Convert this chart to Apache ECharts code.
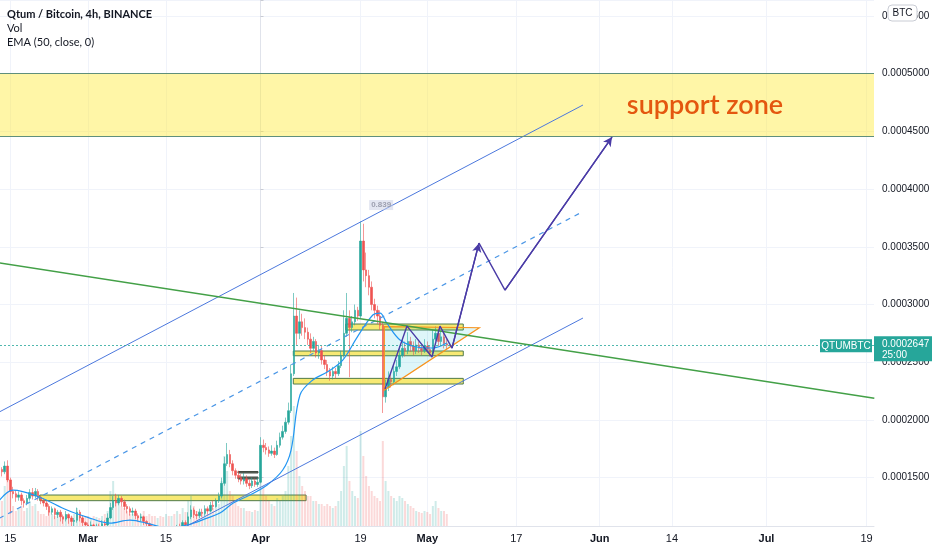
<!DOCTYPE html>
<html><head><meta charset="utf-8">
<script src="https://cdn.jsdelivr.net/npm/echarts@6/dist/echarts.min.js"></script>
<style>html,body{margin:0;padding:0;background:#fff;overflow:hidden}#c{width:932px;height:550px}</style>
</head><body><div id="c"></div>
<script>
// Time axis: days relative to 2021-04-01. Prices in units of 1e-7 BTC.
const startDay = -47;      // 2021-02-13 00:00
const stepDays = 0.5;      // 12h candles
const xRange = [-46.85, 110.34];
const tickDays = [-45, -31, -17, 0, 18, 30, 46, 61, 74, 91, 109];
const tickLabels = ['15', 'Mar', '15', 'Apr', '19', 'May', '17', 'Jun', '14', 'Jul', '19'];
const monthLabels = ['Mar', 'Apr', 'May', 'Jun', 'Jul'];

// [open, close, low, high]
const candles = [
[1540,1570,1520,1600],[1570,1550,1510,1590],
[1550,1600,1530,1640],[1600,1480,1460,1650],
[1480,1380,1190,1500],[1380,1360,1320,1420],
[1360,1330,1290,1390],[1330,1350,1300,1380],
[1350,1300,1260,1370],[1300,1280,1240,1320],
[1280,1320,1260,1350],[1320,1370,1300,1400],
[1370,1340,1310,1410],[1340,1380,1320,1410],
[1380,1330,1300,1400],[1330,1300,1270,1340],
[1300,1280,1250,1320],[1280,1250,1220,1300],
[1250,1200,1170,1270],[1200,1230,1180,1250],
[1230,1180,1140,1240],[1180,1200,1150,1220],
[1200,1160,1120,1220],[1160,1140,1100,1180],
[1140,1180,1120,1210],[1180,1150,1100,1190],
[1150,1120,1080,1170],[1120,1130,1070,1150],
[1130,1200,1110,1240],[1200,1150,1120,1220],
[1150,1110,1080,1170],[1110,1090,1050,1120],
[1090,1070,1040,1110],[1070,1090,1050,1120],
[1090,1060,1030,1100],[1060,1080,1040,1100],
[1080,1060,1030,1100],[1060,1100,1050,1130],
[1100,1090,1050,1130],[1090,1150,1080,1190],
[1150,1240,1140,1280],[1240,1300,1220,1340],
[1300,1280,1250,1360],[1280,1320,1260,1350],
[1320,1290,1250,1340],[1290,1250,1220,1310],
[1250,1230,1190,1270],[1230,1200,1170,1250],
[1200,1210,1170,1240],[1210,1170,1140,1230],
[1170,1150,1120,1190],[1150,1160,1120,1190],
[1160,1120,1090,1170],[1120,1100,1070,1130],
[1100,1080,1040,1110],[1080,1060,1020,1090],
[1060,1040,1000,1080],[1040,1050,1010,1070],
[1050,1030,990,1070],[1030,1010,980,1050],
[1010,1030,990,1050],[1030,1000,970,1040],
[1000,1040,990,1060],[1040,1030,1000,1070],
[1030,1070,1020,1090],[1070,1060,1030,1100],
[1060,1110,1050,1130],[1110,1090,1060,1130],
[1090,1160,1080,1200],[1160,1220,1140,1260],
[1220,1180,1150,1240],[1180,1170,1140,1210],
[1170,1200,1150,1230],[1200,1190,1160,1230],
[1190,1230,1170,1260],[1230,1210,1180,1250],
[1210,1260,1200,1290],[1260,1250,1220,1300],
[1250,1300,1240,1320],[1300,1340,1280,1370],
[1340,1450,1320,1500],[1450,1620,1430,1680],
[1620,1700,1600,1800],[1700,1620,1590,1740],
[1620,1560,1520,1650],[1560,1520,1490,1580],
[1520,1500,1460,1560],[1500,1470,1440,1530],
[1470,1490,1440,1540],[1490,1450,1420,1520],
[1450,1430,1400,1480],[1430,1470,1410,1500],
[1470,1440,1420,1490],[1440,1460,1420,1500],
[1460,1780,1450,1850],[1780,1760,1720,1830],
[1760,1740,1700,1800],[1740,1710,1680,1770],
[1710,1730,1690,1780],[1730,1700,1670,1760],
[1700,1780,1690,1820],[1780,1850,1760,1890],
[1850,1900,1830,1950],[1900,1980,1880,2020],
[1980,2080,1960,2150],[2080,2400,2060,2480],
[2400,2900,2380,3100],[2900,2750,2650,3060],
[2750,2850,2700,2950],[2850,2800,2730,2920],
[2800,2760,2700,2880],[2760,2700,2650,2800],
[2700,2620,2580,2750],[2620,2680,2600,2720],
[2680,2580,2540,2700],[2580,2600,2530,2650],
[2600,2520,2480,2640],[2520,2480,2440,2560],
[2480,2420,2380,2520],[2420,2380,2340,2450],
[2380,2420,2350,2460],[2420,2400,2360,2450],
[2400,2470,2380,2510],[2470,2560,2450,2600],
[2560,2750,2540,2950],[2750,2880,2720,3100],
[2880,2800,2370,2950],[2800,2850,2760,2900],
[2850,2950,2820,3000],[2950,2900,2860,2980],
[2900,3550,2880,3720],[3550,3300,3200,3700],
[3300,3250,3150,3450],[3250,3150,3080,3300],
[3150,3000,2950,3200],[3000,2950,2880,3050],
[2950,2900,2830,2990],[2900,2820,2780,2950],
[2820,2200,2060,2850],[2200,2280,2150,2350],
[2280,2350,2250,2420],[2350,2330,2280,2400],
[2330,2420,2300,2480],[2420,2460,2380,2520],
[2460,2560,2440,2640],[2560,2620,2540,2700],
[2620,2600,2550,2680],[2600,2680,2570,2760],
[2680,2640,2590,2720],[2640,2600,2560,2680],
[2600,2650,2570,2700],[2650,2620,2580,2680],
[2620,2600,2560,2660],[2600,2640,2580,2700],
[2640,2610,2580,2680],[2610,2580,2550,2640],
[2580,2700,2560,2780],[2700,2750,2680,2810],
[2750,2680,2640,2790],[2680,2720,2650,2770],
[2720,2660,2620,2760],[2660,2647,2610,2700]
];

const volumes = [
30,25,40,50,
35,20,15,18,20,15,18,25,20,22,15,12,
12,10,15,12,10,12,14,10,12,10,10,12,18,12,10,10,
10,8,10,9,8,10,12,15,
35,45,30,25,20,18,15,12,
12,10,10,12,15,10,12,10,
10,8,10,9,12,10,10,12,15,12,18,14,
25,30,20,15,15,12,14,12,15,18,20,22,
45,70,55,35,30,25,20,18,18,15,15,14,16,15,
70,40,30,25,22,20,28,25,30,35,60,90,
120,75,50,40,35,30,30,25,25,22,22,20,
22,20,18,20,25,35,60,80,45,35,30,28,
95,70,50,40,35,30,28,25,
85,45,35,30,28,25,30,28,25,22,20,18,
15,14,13,15,14,12,20,25,18,15,15,12
];

const emaDays = [-46.9,-44.5,-39.7,-34.8,-31.2,-27.1,-23.5,-19.8,-16.8,-13.2,-9.6,-7.3,-4.9,-1.9,1.2,4.0,5.5,7.1,9.4,12,14.8,17.4,20.2,21.5,22.7,25.1,28.1,31,33.5];
const emaValues = [1306,1392,1330,1219,1158,1106,1132,1097,1062,1089,1149,1193,1280,1349,1436,1566,1739,2216,2346,2415,2519,2718,2909,2926,2840,2692,2632,2623,2666];

const lastPrice = 2647;
const channelDays = [-47, 58];
const channelUpper = [2068, 4729];
const channelMiddle = [1147, 3806];
const channelLower = [226, 2883];
const greenDays = [-47, 110.4];
const greenPrices = [3360, 2188];
const zonePrices = [4460, 5000];
// [dayFrom, priceFrom, dayTo, priceTo]
const yellowRects = [[-39.7,1300,8.2,1349],[15.32,2779,36.47,2831],[5.9,2556,36.47,2597],[5.9,2311,36.47,2360]];
const darkRects = [[-4.05,1540,-0.45,1553],[-4.05,1488,-0.45,1505]];
const triDays = [22.27, 39.35, 22.27];
const triPrices = [2808, 2799, 2259];
const pathDays = [22.4,26.35,30.84,32.28,34.44,39.3,43.97,63.22];
const pathPrices = [2268,2813,2545,2813,2622,3532,3125,4451];
const zoneText = {day: 79.95, price: 4729, text: 'support zone'};
const peakText = {day: 21.7, price: 3862, text: '0.839'};

const UP = '#26a69a', DOWN = '#ef5350';
const axisFont = '"Liberation Sans",Arial,sans-serif';

const candleData = candles.map((c, i) => [startDay + i * stepDays, c[0], c[1], c[2], c[3]]);
const volData = volumes.map((v, i) => ({
  value: [startDay + i * stepDays, v],
  itemStyle: {color: candles[i][1] >= candles[i][0] ? 'rgba(38,166,154,0.22)' : 'rgba(239,83,80,0.22)'}
}));
const pairs = (ds, ps) => ds.map((d, i) => [d, ps[i]]);

const chart = echarts.init(document.getElementById('c'), null, {renderer: 'canvas'});
const option = {
  animation: false,
  grid: [
    {left: 0, right: 58, top: 0, bottom: 14.7, outerBoundsMode: 'none', containLabel: false},
    {left: 0, right: 58, bottom: 24, height: 150, outerBoundsMode: 'none', containLabel: false}
  ],
  xAxis: [
    {type: 'value', gridIndex: 0, min: xRange[0], max: xRange[1],
     axisLine: {show: false}, axisTick: {show: false, customValues: tickDays},
     axisLabel: {show: false, customValues: tickDays},
     splitLine: {show: true, lineStyle: {color: '#f0f3fa', width: 1}}},
    {type: 'value', gridIndex: 1, min: xRange[0], max: xRange[1], z: 60,
     axisLine: {show: true, onZero: false, lineStyle: {color: '#e0e3eb'}},
     axisTick: {show: false, customValues: tickDays},
     axisLabel: {customValues: tickDays, margin: 7, color: '#131722', fontSize: 11, fontFamily: axisFont,
       formatter: v => {
         const i = tickDays.findIndex(t => Math.abs(t - v) < 1e-6);
         if (i < 0) return '';
         const l = tickLabels[i];
         return monthLabels.includes(l) ? '{b|' + l + '}' : l;
       },
       rich: {b: {fontWeight: 'bold', fontSize: 11, fontFamily: axisFont, color: '#131722'}}},
     splitLine: {show: false}}
  ],
  yAxis: [
    {type: 'value', gridIndex: 0, position: 'right', min: 1000, max: 5639, interval: 500,
     axisLine: {show: true, lineStyle: {color: '#e0e3eb'}},
     axisTick: {show: true, length: 3, lineStyle: {color: '#c8cbd4'}},
     axisLabel: {margin: 8, color: '#131722', fontSize: 10, fontFamily: axisFont, align: 'left',
       formatter: v => (v >= 1500 && Math.abs(v % 500) < 1e-6) ? (v * 1e-7).toFixed(7) : ''},
     splitLine: {show: true, lineStyle: {color: '#f0f3fa'}}},
    {type: 'value', gridIndex: 1, min: 0, max: 150, show: false}
  ],
  series: [
    {type: 'bar', name: 'Vol', xAxisIndex: 1, yAxisIndex: 1, data: volData, barWidth: 2, z: 1, silent: true},
    {type: 'candlestick', xAxisIndex: 0, yAxisIndex: 0, data: candleData, encode: {x: 0, y: [1, 2, 3, 4]},
     barWidth: 2, z: 2,
     itemStyle: {color: UP, color0: DOWN, borderColor: UP, borderColor0: DOWN, borderWidth: 0.6}},
    {type: 'line', data: [], z: 2, markLine: {silent: true, symbol: 'none', label: {show: false},
       itemStyle: {color: '#26a69a'},
       lineStyle: {color: '#26a69a', type: [2, 2], width: 1, opacity: 0.8}, data: [{yAxis: lastPrice}]}},
    {type: 'line', name: 'EMA', data: pairs(emaDays, emaValues), smooth: 0.35, showSymbol: false,
     lineStyle: {color: '#2196f3', width: 1.2}, z: 3},
    {type: 'line', data: pairs(channelDays, channelUpper), showSymbol: false, lineStyle: {color: '#4c78dd', width: 1}, z: 3},
    {type: 'line', data: pairs(channelDays, channelLower), showSymbol: false, lineStyle: {color: '#4c78dd', width: 1}, z: 3},
    {type: 'line', data: pairs(channelDays, channelMiddle), showSymbol: false, lineStyle: {color: '#4a96e6', width: 1.2, type: [5, 5]}, z: 3},
    {type: 'line', data: pairs(greenDays, greenPrices), showSymbol: false, lineStyle: {color: '#43a047', width: 1.5}, z: 3},
    {type: 'custom', z: 3, data: [0], renderItem: (params, api) => {
       const pts = triDays.map((d, i) => api.coord([d, triPrices[i]]));
       return {type: 'polygon', shape: {points: pts},
         style: {fill: 'rgba(0,188,212,0.13)', stroke: '#f7931e', lineWidth: 1.2}};
     }},
    {type: 'line', data: [], z: 4,
     markArea: {silent: true,
       data: [[{xAxis: xRange[0], yAxis: zonePrices[0], itemStyle: {color: 'rgba(255,235,59,0.45)', borderWidth: 0}},
               {xAxis: xRange[1], yAxis: zonePrices[1]}]]
         .concat(yellowRects.map(r => [{xAxis: r[0], yAxis: r[1], itemStyle: {color: 'rgba(245,228,80,0.8)', borderColor: '#4f7a4a', borderWidth: 1}}, {xAxis: r[2], yAxis: r[3]}]))
         .concat(darkRects.map(r => [{xAxis: r[0], yAxis: r[1], itemStyle: {color: 'rgba(70,80,70,0.85)', borderColor: '#404a40', borderWidth: 1}}, {xAxis: r[2], yAxis: r[3]}]))},
     markLine: {silent: true, symbol: 'none', label: {show: false},
       lineStyle: {color: '#5f8f7c', type: 'solid', width: 1},
       data: zonePrices.map(p => ({yAxis: p}))}},
    {type: 'line', data: pairs(pathDays, pathPrices), showSymbol: false, z: 5,
     lineStyle: {color: '#4a3ba6', width: 1.4},
     markLine: {silent: true, symbol: ['none', 'arrow'], symbolSize: [7, 9], label: {show: false},
       lineStyle: {color: '#4a3ba6', width: 1.4, type: 'solid'},
       data: [[{coord: [pathDays[4], pathPrices[4]]}, {coord: [pathDays[5], pathPrices[5]]}],
              [{coord: [pathDays[6], pathPrices[6]]}, {coord: [pathDays[7], pathPrices[7]]}]]}}
  ]
};
chart.setOption(option);

const py = chart.convertToPixel({yAxisIndex: 0}, lastPrice);
const zt = chart.convertToPixel({gridIndex: 0}, [zoneText.day, zoneText.price]);
const pt = chart.convertToPixel({gridIndex: 0}, [peakText.day, peakText.price]);
const gx = chart.convertToPixel({xAxisIndex: 0}, xRange[1]);
const Z = 70;
chart.setOption({
  graphic: [
    {type: 'rect', z: 50, silent: true, shape: {x: 0, y: 526.5, width: gx - 0.5, height: 30}, style: {fill: '#fff'}},
    {type: 'text', z: Z, x: zt[0], y: zt[1], style: {text: zoneText.text, fill: '#e4570f', font: '600 27px Lato, "Open Sans", sans-serif', align: 'center', verticalAlign: 'middle'}},
    {type: 'text', z: Z, x: pt[0], y: pt[1], style: {text: peakText.text, fill: 'rgba(140,143,160,0.8)', font: 'bold 8px "Liberation Sans", sans-serif', align: 'center', verticalAlign: 'middle', backgroundColor: 'rgba(200,205,230,0.5)', padding: [1, 2]}},
    {type: 'text', z: Z, left: 7, top: 9, style: {text: 'Qtum / Bitcoin, 4h, BINANCE', fill: '#131722', font: 'bold 11px Lato, sans-serif'}},
    {type: 'text', z: Z, left: 7, top: 23, style: {text: 'Vol', fill: '#131722', font: '11px Lato, sans-serif'}},
    {type: 'text', z: Z, left: 7, top: 37, style: {text: 'EMA (50, close, 0)', fill: '#131722', font: '11px Lato, sans-serif'}},
    {type: 'rect', z: Z, shape: {x: gx, y: py - 9, width: 60, height: 25}, style: {fill: UP}},
    {type: 'text', z: Z + 1, x: gx + 8, y: py - 1, style: {text: (lastPrice * 1e-7).toFixed(7), fill: '#fff', font: '10px ' + axisFont, verticalAlign: 'middle'}},
    {type: 'text', z: Z + 1, x: gx + 8, y: py + 10, style: {text: '25:00', fill: '#fff', font: '10px ' + axisFont, verticalAlign: 'middle'}},
    {type: 'rect', z: Z, shape: {x: gx - 54, y: py - 6, width: 52, height: 13}, style: {fill: UP}},
    {type: 'text', z: Z + 1, x: gx - 28, y: py + 0.5, style: {text: 'QTUMBTC', fill: '#fff', font: '10px ' + axisFont, align: 'center', verticalAlign: 'middle'}},
    {type: 'rect', z: Z, shape: {x: 888, y: 5, width: 29, height: 16, r: 4}, style: {fill: '#fff', stroke: '#c9ccd4', lineWidth: 1}},
    {type: 'text', z: Z + 1, x: 902.5, y: 13.5, style: {text: 'BTC', fill: '#131722', font: '10px ' + axisFont, align: 'center', verticalAlign: 'middle'}}
  ]
});
</script></body></html>
